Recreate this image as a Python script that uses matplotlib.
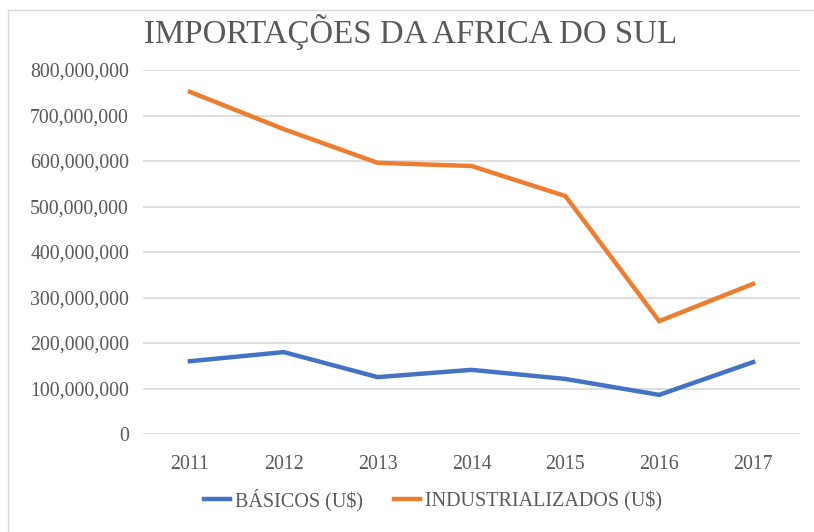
import matplotlib
matplotlib.use('Agg')
import matplotlib.pyplot as plt
from matplotlib.ticker import FuncFormatter
from matplotlib.lines import Line2D

years = ['2011', '2012', '2013', '2014', '2015', '2016', '2017']
basicos = [160e6, 180e6, 125e6, 141e6, 121e6, 86e6, 158e6]
industrializados = [752e6, 670e6, 596e6, 589e6, 523e6, 248e6, 330e6]

plt.rcParams['font.family'] = ['Liberation Serif', 'DejaVu Serif']
grey = '#595959'

fig = plt.figure(figsize=(8.14, 5.32), dpi=100)
ax = fig.add_axes([143 / 814, 1 - 434 / 532, 657 / 814, 364 / 532])

x = range(len(years))
ax.plot(x, basicos, color='#4472C4', lw=3.2, solid_joinstyle='miter', label='BÁSICOS (U$)')
ax.plot(x, industrializados, color='#ED7D31', lw=3.2, solid_joinstyle='miter', label='INDUSTRIALIZADOS (U$)')

ax.set_xlim(-0.5, len(years) - 0.5)
ax.set_ylim(0, 800e6)
ax.set_yticks([i * 100e6 for i in range(9)])
ax.yaxis.set_major_formatter(FuncFormatter(lambda v, p: f'{int(v):,}'))
ax.set_xticks(list(x))
ax.set_xticklabels(years)
ax.grid(axis='y', color='#d9d9d9', lw=1.2)
ax.set_axisbelow(True)
for s in ax.spines.values():
    s.set_visible(False)
ax.tick_params(axis='both', length=0, labelsize=14.3, labelcolor=grey)
ax.tick_params(axis='y', pad=10)
ax.tick_params(axis='x', pad=15)

fig.text(411 / 814, 1 - 32 / 532, 'IMPORTAÇÕES DA AFRICA DO SUL', ha='center', va='center',
         fontsize=23.7, color=grey)

handles = [Line2D([], [], color='#4472C4', lw=3.2), Line2D([], [], color='#ED7D31', lw=3.2)]
fig.legend(handles, ['BÁSICOS (U$)', 'INDUSTRIALIZADOS (U$)'], loc='center',
           bbox_to_anchor=(433 / 814, 1 - 500 / 532), ncol=2, frameon=False,
           fontsize=14.5, labelcolor=grey, handlelength=1.3, handletextpad=0.25, columnspacing=1.5)

# chart frame
fig.add_artist(Line2D([8 / 814, 8 / 814], [0, 1 - 10 / 532], color='#d9d9d9', lw=1, transform=fig.transFigure))
fig.add_artist(Line2D([8 / 814, 1], [1 - 10 / 532, 1 - 10 / 532], color='#d9d9d9', lw=1, transform=fig.transFigure))

fig.savefig('out.png', dpi=100)
